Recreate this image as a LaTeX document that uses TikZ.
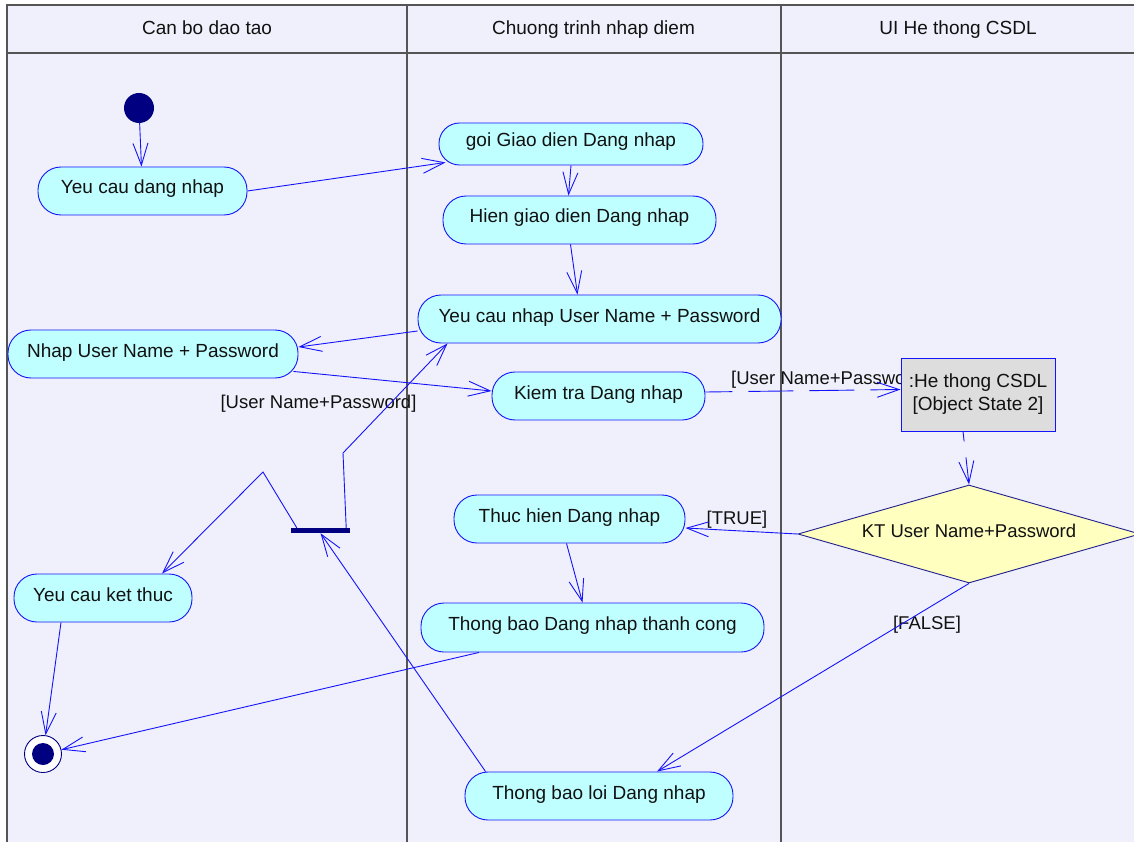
\documentclass[tikz,border=0pt]{standalone}
\usepackage{fontspec}
\setmainfont{Liberation Sans}
\usetikzlibrary{arrows.meta,shapes.geometric,calc}
\definecolor{lanebg}{RGB}{240,240,252}
\definecolor{laneline}{RGB}{85,85,85}
\definecolor{actfill}{RGB}{192,255,255}
\definecolor{flowblue}{RGB}{20,20,250}
\definecolor{navy}{RGB}{0,0,128}
\definecolor{objfill}{RGB}{221,221,221}
\definecolor{decfill}{RGB}{255,255,192}
\definecolor{decline}{RGB}{30,30,140}
\definecolor{ink}{RGB}{17,17,17}

\begin{document}
\begin{tikzpicture}[x=1pt,y=-1pt,
  font=\fontsize{19}{23}\selectfont,
  act/.style={draw=flowblue, fill=actfill, rounded corners=23pt, line width=0.9pt,
    minimum height=48pt, inner sep=0pt, text=ink, text height=14pt, text depth=8pt},
  arr/.style={draw=flowblue, line width=0.9pt, -{Straight Barb[length=22pt,width=15pt]}},
  dashline/.style={dash pattern=on 45pt off 16pt, dash phase=#1},
  lab/.style={text=ink, inner sep=0pt, font=\fontsize{18.5}{22}\selectfont},
  hdr/.style={text=ink, inner sep=0pt, anchor=base},
  lane/.style={draw=laneline, line width=1.5pt}
]
\useasboundingbox (0,0) rectangle (1134,842);
\fill[white] (0,0) rectangle (1134,842);
\clip (0,0) rectangle (1134,842);

% swimlanes
\fill[lanebg] (7,5) rectangle (1136,850);
\draw[lane] (7,850) -- (7,5) -- (1136,5);
\draw[lane] (7,53) -- (1136,53);
\draw[lane] (407,5) -- (407,850);
\draw[lane] (781,5) -- (781,850);
\node[hdr] (h1) at (207,35) {Can bo dao tao};
\node[hdr] (h2) at (593.5,35) {Chuong trinh nhap diem};
\node[hdr] (h3) at (958,35) {UI He thong CSDL};

% activities
\node[circle, fill=navy, minimum size=30pt, inner sep=0pt] (start) at (139,108) {};
\node[act, minimum width=209pt] (ycdn) at (142.5,191) {Yeu cau dang nhap};
\node[act, minimum width=264pt, minimum height=42pt, rounded corners=20.5pt] (goi) at (571,144) {goi Giao dien Dang nhap};
\node[act, minimum width=273pt] (hien) at (579.5,220) {Hien giao dien Dang nhap};
\node[act, minimum width=363pt] (ycnup) at (599.5,319) {Yeu cau nhap User Name + Password};
\node[act, minimum width=290pt] (nhap) at (153,354) {Nhap User Name + Password};
\node[act, minimum width=213pt] (kiem) at (598.5,396) {Kiem tra Dang nhap};
\node[lab, anchor=base west] (lkiem) at (731,384) {[User Name+Password]};
\node[draw=flowblue, fill=objfill, line width=0.9pt, minimum width=154pt, minimum height=73pt,
  inner sep=0pt, align=center, text=ink] (obj) at (978,394.5) {:He thong CSDL\\{[Object State 2]}};
\node[diamond, draw=decline, fill=decfill, line width=0.9pt, minimum width=342pt, minimum height=98pt,
  inner sep=0pt, aspect=3.5, text=ink, text height=14pt, text depth=8pt,
  font=\fontsize{18.5}{22}\selectfont] (kt) at (969,534) {KT User Name+Password};
\node[act, minimum width=231pt] (thuc) at (569.5,519) {Thuc hien Dang nhap};
\node[act, minimum width=343pt, minimum height=49pt] (tbtc) at (592.5,627.5) {Thong bao Dang nhap thanh cong};
\node[act, minimum width=268pt] (tbl) at (599,796) {Thong bao loi Dang nhap};
\node[act, minimum width=178pt] (ykt) at (103,598) {Yeu cau ket thuc};
\node[fill=navy, minimum width=59pt, minimum height=5pt, inner sep=0pt] (bar) at (320.5,530.5) {};
\node[circle, draw=navy, fill=white, line width=0.9pt, minimum size=37pt, inner sep=0pt,
  path picture={\fill[navy] (path picture bounding box.center) circle[radius=11pt];}] (final) at (43,754) {};

% guard labels
\node[lab, anchor=base] (lnhap) at (318.5,408) {[User Name+Password]};
\node[lab, anchor=base] (ltrue) at (737,524) {[TRUE]};
\node[lab, anchor=base] (lfalse) at (927,629) {[FALSE]};

% bend points
\coordinate (j1) at (343,453);
\coordinate (j2) at (263,472);

% transitions
\draw[arr] (start) -- (ycdn);
\draw[arr] (ycdn.east) -- ($(goi.south west)+(7,-3)$);
\draw[arr] (goi.south) -- ($(hien.north)+(-11,0)$);
\draw[arr] ($(hien.south)+(-9,0)$) -- ($(ycnup.north)+(-22,0)$);
\draw[arr] ($(ycnup.west)+(0,12)$) -- ($(nhap.east)+(0,-7)$);
\draw[arr] ($(nhap.south east)+(-5,-7)$) -- ($(kiem.west)+(0,-5)$);
\draw[arr,dashline=18pt] ($(kiem.east)+(0,-4)$) -- ($(obj.west)+(0,-5)$);
\draw[arr,dashline=35pt] ($(obj.south)+(-15,0)$) -- (kt.north);
\draw[arr] (kt.west) -- ($(thuc.east)+(0,9)$);
\draw[arr] ($(thuc.south)+(-3,0)$) -- ($(tbtc.north)+(-10,0)$);
\draw[arr] (kt.south) -- ($(tbl.north)+(58,0)$);
\draw[arr] ($(tbtc.south)+(-113.5,0)$) -- (final);
\draw[arr] ($(ykt.south)+(-42,0)$) -- (final);
\draw[arr] ($(tbl.north west)+(21,0)$) -- (bar.south);
\draw[arr] ($(bar.north east)+(-4,0)$) -- (j1) -- ($(ycnup.south west)+(30,0)$);
\draw[arr] ($(bar.north west)+(6,0)$) -- (j2) -- ($(ykt.north)+(59,0)$);
\end{tikzpicture}
\end{document}
